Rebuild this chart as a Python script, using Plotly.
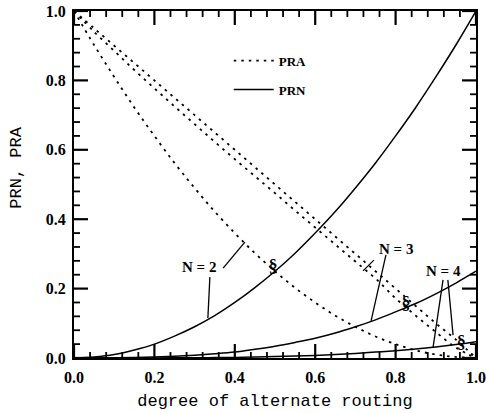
import plotly.graph_objects as go

# degree of alternate routing (sample points)
x_vals = [0.0, 0.05, 0.10, 0.15, 0.20, 0.25, 0.30, 0.35, 0.40, 0.45, 0.50,
          0.55, 0.60, 0.65, 0.70, 0.75, 0.80, 0.85, 0.90, 0.95, 1.0]

# PRN (solid)
prn_n2 = [0.0, 0.003, 0.010, 0.023, 0.040, 0.063, 0.090, 0.122, 0.160, 0.203, 0.250,
          0.302, 0.360, 0.422, 0.490, 0.562, 0.640, 0.722, 0.810, 0.902, 1.0]
prn_n3 = [0.0, 0.0, 0.0004, 0.0012, 0.0027, 0.005, 0.008, 0.012, 0.017, 0.025, 0.034,
          0.045, 0.057, 0.072, 0.090, 0.110, 0.133, 0.157, 0.185, 0.216, 0.250]
prn_n4 = [0.0, 0.0, 0.0, 0.0001, 0.0002, 0.0004, 0.0007, 0.0012, 0.0018, 0.0028, 0.004,
          0.0056, 0.0075, 0.010, 0.013, 0.017, 0.021, 0.026, 0.032, 0.039, 0.047]

# PRA (dashed)
pra_n2 = [1.0, 0.902, 0.810, 0.722, 0.640, 0.562, 0.490, 0.422, 0.360, 0.302, 0.250,
          0.202, 0.160, 0.122, 0.090, 0.062, 0.040, 0.022, 0.010, 0.003, 0.0]
pra_n3 = [1.0, 0.940, 0.885, 0.830, 0.777, 0.725, 0.674, 0.623, 0.573, 0.524, 0.475,
          0.425, 0.376, 0.327, 0.278, 0.229, 0.172, 0.122, 0.075, 0.030, 0.0]
pra_n4 = [1.0, 0.950, 0.900, 0.850, 0.800, 0.750, 0.700, 0.650, 0.600, 0.550, 0.500,
          0.450, 0.400, 0.350, 0.300, 0.250, 0.200, 0.150, 0.100, 0.053, 0.0]

# crossing markers
cross_x = [0.495, 0.826, 0.963]
cross_y = [0.262, 0.153, 0.043]

# axis ticks
major_ticks = [0.0, 0.2, 0.4, 0.6, 0.8, 1.0]
minor_ticks = [round(i * 0.04, 2) for i in range(1, 25) if i % 5 != 0]

# curve labels and their leader lines
label_text = ["N = 2", "N = 3", "N = 4"]
label_x = [0.311, 0.801, 0.918]
label_y = [0.262, 0.314, 0.251]
leaders = [
    (0.371, 0.259, 0.425, 0.334),
    (0.338, 0.233, 0.333, 0.115),
    (0.746, 0.282, 0.719, 0.251),
    (0.776, 0.297, 0.739, 0.107),
    (0.918, 0.225, 0.893, 0.029),
    (0.930, 0.225, 0.943, 0.066),
]

W, H = 486, 413
ML, MR, MT, MB = 74, 10, 11, 55
PW, PH = W - ML - MR, H - MT - MB

DASH = "2.5px,5px"
fig = go.Figure()

for i, ys in enumerate([pra_n2, pra_n3, pra_n4]):
    fig.add_trace(go.Scatter(
        x=x_vals, y=ys, mode="lines", line=dict(color="black", width=1.8, dash=DASH, shape="spline"),
        name="PRA", legendgroup="a", showlegend=(i == 0)))
for i, ys in enumerate([prn_n2, prn_n3, prn_n4]):
    fig.add_trace(go.Scatter(
        x=x_vals, y=ys, mode="lines", line=dict(color="black", width=1.5, shape="spline"),
        name="PRN", legendgroup="b", showlegend=(i == 0)))

fig.add_trace(go.Scatter(
    x=cross_x, y=cross_y, mode="text", text=["§"] * len(cross_x),
    textfont=dict(family="Liberation Serif", size=18, color="black", weight="bold"),
    showlegend=False, hoverinfo="skip"))

# inside ticks on all four sides, drawn as one line trace per tick size
for vals, ln, lw in ((major_ticks, 14, 2.2), (minor_ticks, 6, 1.8)):
    ty, tx = ln / PH, ln / PW  # tick length in axis units (both axes span 0..1)
    tick_x, tick_y = [], []
    for v in vals:
        tick_x += [v, v, None, v, v, None, 0, tx, None, 1, 1 - tx, None]
        tick_y += [0, ty, None, 1, 1 - ty, None, v, v, None, v, v, None]
    fig.add_trace(go.Scatter(x=tick_x, y=tick_y, mode="lines", cliponaxis=False,
                             line=dict(color="black", width=lw), connectgaps=False,
                             showlegend=False, hoverinfo="skip"))

for (x0, y0, x1, y1) in leaders:
    fig.add_shape(type="line", x0=x0, y0=y0, x1=x1, y1=y1, xref="x", yref="y",
                  line=dict(color="black", width=1.3))

for t, lx, ly in zip(label_text, label_x, label_y):
    fig.add_annotation(x=lx, y=ly, text=t, showarrow=False, xref="x", yref="y",
                       font=dict(family="Liberation Serif", size=15, color="black", weight="bold"))

# y-axis title, placed as rotated text left of the axis
fig.add_annotation(x=-0.142, y=0.548, xref="paper", yref="paper", text="PRN, PRA",
                   textangle=-90, showarrow=False, xanchor="center", yanchor="middle",
                   font=dict(family="Liberation Mono", size=17, color="black"))

axis_common = dict(
    range=[0, 1], tickvals=major_ticks, tickformat=".1f", ticks="",
    showline=True, linewidth=2, linecolor="black", mirror=True,
    showgrid=False, zeroline=False, automargin=False, ticklabeloverflow="allow",
    tickfont=dict(family="Liberation Serif", size=16, color="black", weight="bold"),
)

fig.update_layout(
    width=W, height=H,
    margin=dict(l=ML, r=MR, t=MT, b=MB),
    paper_bgcolor="white", plot_bgcolor="white",
    xaxis=dict(**axis_common, ticklabelstandoff=4,
               title=dict(text="degree of alternate routing",
                          font=dict(family="Liberation Mono", size=17, color="black"),
                          standoff=9)),
    yaxis=dict(**axis_common, ticklabelstandoff=3),
    legend=dict(x=0.385, y=0.90, xanchor="left", yanchor="top", itemwidth=40,
                bgcolor="rgba(0,0,0,0)", traceorder="grouped", tracegroupgap=9,
                font=dict(family="Liberation Serif", size=13, color="black", weight="bold")),
    showlegend=True,
)

fig.write_html("out.html", config={"displayModeBar": False},
               post_script="document.body.style.margin='0';")
